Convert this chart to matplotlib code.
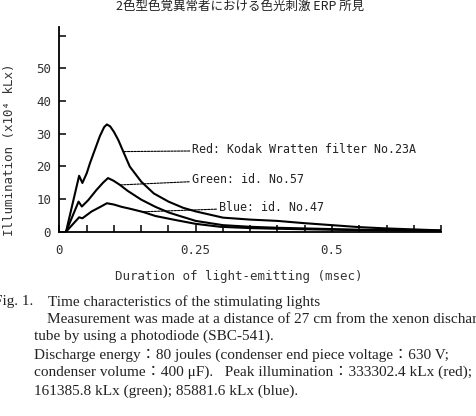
import numpy as np
import matplotlib
matplotlib.use("Agg")
import matplotlib.pyplot as plt

# curve data (x in msec, y in x10^4 kLx)
red_x = [0.012, 0.036, 0.042, 0.05, 0.056, 0.065, 0.074, 0.082, 0.087, 0.093, 0.1, 0.108,
         0.117, 0.129, 0.15, 0.173, 0.2, 0.227, 0.25, 0.3, 0.35, 0.4, 0.45, 0.5, 0.55, 0.6,
         0.65, 0.7]
red_y = [0, 17.1, 14.9, 17.9, 21.0, 25.1, 29.2, 32.0, 32.8, 32.2, 30.5, 28.0,
         24.5, 19.9, 15.3, 11.7, 9.2, 7.3, 6.2, 4.3, 3.7, 3.3, 2.6, 2.0, 1.4, 1.0,
         0.7, 0.4]

green_x = [0.012, 0.035, 0.041, 0.053, 0.068, 0.08, 0.089, 0.099, 0.111, 0.125, 0.15, 0.176,
           0.2, 0.215, 0.25, 0.3, 0.35, 0.4, 0.45, 0.5, 0.55, 0.6, 0.65, 0.7]
green_y = [0, 9.2, 7.7, 9.7, 12.8, 15.0, 16.4, 15.6, 14.3, 12.5, 9.8, 7.6,
           5.9, 5.1, 3.3, 2.0, 1.5, 1.2, 1.0, 0.8, 0.6, 0.5, 0.4, 0.3]

blue_x = [0.012, 0.036, 0.042, 0.059, 0.075, 0.087, 0.1, 0.114, 0.13, 0.154, 0.176, 0.215,
          0.25, 0.295, 0.35, 0.4, 0.5, 0.6, 0.7]
blue_y = [0, 4.4, 4.1, 6.2, 7.6, 8.7, 8.3, 7.6, 7.0, 6.0, 4.8, 3.5,
          2.4, 1.5, 1.1, 0.9, 0.6, 0.4, 0.3]

labels = ["Red: Kodak Wratten filter No.23A", "Green: id. No.57", "Blue: id. No.47"]
xtick_pos = np.arange(0, 0.701, 0.05)
xtick_txt = {0: "0", 5: "0.25", 10: "0.5"}
ytick_pos = [0, 10, 20, 30, 40, 50, 60]

W, H = 477, 416
mono = "DejaVu Sans Mono"


def fx(x):
    return x / W


def fy(y):
    return 1 - y / H


fig = plt.figure(figsize=(W / 100, H / 100), dpi=100)
ax = fig.add_axes([fx(59.5), fy(231.7), (441 - 59.5) / W, (231.7 - 27) / H])

for xs, ys in [(red_x, red_y), (green_x, green_y), (blue_x, blue_y)]:
    ax.plot(xs, ys, color="black", lw=1.5, solid_joinstyle="round")

ax.set_xlim(0, 0.70)
ax.set_ylim(0, 62.6)
for s in ["top", "right"]:
    ax.spines[s].set_visible(False)
for s in ["left", "bottom"]:
    ax.spines[s].set_linewidth(1.3)

ax.set_xticks(xtick_pos)
ax.set_xticklabels([xtick_txt.get(i, "") for i in range(len(xtick_pos))])
ax.set_yticks(ytick_pos)
ax.set_yticklabels([str(v) if v < 60 else "" for v in ytick_pos])
ax.tick_params(direction="in", length=5, width=1.1, labelsize=9, colors="black")
ax.tick_params(axis="x", pad=9)
ax.tick_params(axis="y", pad=6)
for t in ax.get_xticklabels() + ax.get_yticklabels():
    t.set_family(mono)
    t.set_color("#333333")

# leader lines + labels
leads = [(0.117, 0.244, 25.0), (0.111, 0.243, 16.1), (0.152, 0.293, 7.5)]
for (x0, tx, ty), lab, (xs, ys) in zip(leads, labels,
                                       [(red_x, red_y), (green_x, green_y), (blue_x, blue_y)]):
    y0 = np.interp(x0, xs, ys)
    ax.annotate(lab, xy=(x0, y0), xytext=(tx, ty), ha="left", va="center",
                family=mono, fontsize=8.4, color="#222222",
                arrowprops=dict(arrowstyle="-", lw=0.8, ls=(0, (2, 1)), color="black",
                                shrinkA=0, shrinkB=0))

fig.text(fx(10), fy(150), "Illumination (x10\u2074 kLx)", rotation=90, ha="center",
         va="center", family=mono, fontsize=9, color="#333333")
fig.text(fx(239), fy(276.7), "Duration of light-emitting (msec)", ha="center", va="center",
         family=mono, fontsize=9, color="#333333")

fig.text(fx(240), fy(7), "2色型色覚異常者における色光刺激 ERP 所見", ha="center", va="center",
         family=["Noto Sans CJK JP", "DejaVu Sans"], fontsize=9, color="#222222")

serif = ["Liberation Serif", "Noto Sans CJK JP"]
cap = [
    (-6, 302, "Fig. 1."),
    (48.3, 302, "Time characteristics of the stimulating lights"),
    (46.7, 319.3, "Measurement was made at a distance of 27 cm from the xenon discharge"),
    (34.3, 336.7, "tube by using a photodiode (SBC-541)."),
    (34, 355, "Discharge energy：80 joules (condenser end piece voltage：630 V;"),
    (34, 372.7, "condenser volume：400 \u03bcF).   Peak illumination：333302.4 kLx (red);"),
    (34, 391, "161385.8 kLx (green); 85881.6 kLx (blue)."),
]
for x, y, t in cap:
    fig.text(fx(x), fy(y), t, ha="left", va="center", family=serif, fontsize=11,
             color="#222222")

fig.savefig("out.png", dpi=100)
